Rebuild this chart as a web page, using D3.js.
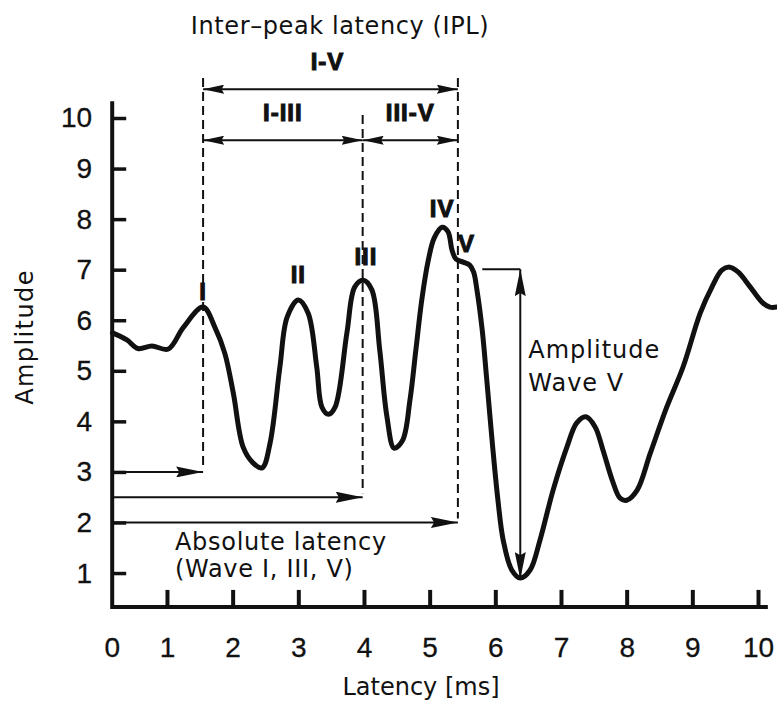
<!DOCTYPE html>
<html>
<head>
<meta charset="utf-8">
<script src="https://cdn.jsdelivr.net/npm/d3@7/dist/d3.min.js"></script>
<style>
  body { margin: 0; background: #fff; }
  svg { display: block; }
  .title { font-family: "DejaVu Sans", sans-serif; font-size: 24px; fill: #111; }
  .tick text { font-family: "Liberation Sans", Arial, sans-serif; font-size: 28px; fill: #111;
               stroke: #111; stroke-width: 0.3px; }
  .roman { font-family: "Liberation Sans", Arial, sans-serif; font-weight: bold; font-size: 24px;
           fill: #111; stroke: #111; stroke-width: 1.1px; letter-spacing: 1px; }
</style>
</head>
<body>
<svg id="chart" width="777" height="704"></svg>
<script>
// Auditory brainstem response trace: latency (ms) and amplitude samples
const latency = [0.17, 0.39, 0.56, 0.77, 1.02, 1.25, 1.55, 1.73, 1.88, 2.01, 2.16, 2.31, 2.45, 2.57,
  2.72, 2.83, 3.00, 3.15, 3.28, 3.36, 3.46, 3.56, 3.74, 3.86, 3.99, 4.12, 4.24, 4.35, 4.46,
  4.59, 4.70, 4.79, 4.88, 4.98, 5.07, 5.19, 5.28, 5.34, 5.40, 5.51, 5.61, 5.67, 5.72, 5.80,
  5.87, 5.96, 6.04, 6.12, 6.25, 6.38, 6.53, 6.68, 6.88, 7.09, 7.24, 7.38, 7.52, 7.64, 7.78,
  7.90, 8.00, 8.16, 8.36, 8.61, 8.86, 9.12, 9.30, 9.45, 9.57, 9.70, 9.88, 10.06, 10.18, 10.29];
const amplitude = [5.75, 5.61, 5.44, 5.49, 5.43, 5.86, 6.26, 5.86, 5.35, 4.56, 3.49, 3.18, 3.08, 3.57,
  5.08, 6.06, 6.40, 6.14, 5.08, 4.28, 4.14, 4.28, 5.75, 6.66, 6.79, 6.60, 5.41, 4.09, 3.47,
  3.63, 4.42, 5.41, 6.40, 7.19, 7.63, 7.84, 7.75, 7.39, 7.21, 7.15, 7.09, 6.95, 6.60, 5.81,
  4.82, 3.49, 2.44, 1.65, 1.06, 0.90, 1.06, 1.65, 2.64, 3.49, 3.97, 4.09, 3.89, 3.43, 2.84,
  2.48, 2.44, 2.64, 3.37, 4.28, 5.08, 6.14, 6.66, 6.99, 7.05, 6.95, 6.66, 6.36, 6.26, 6.26];

// Axis tick labels
const xTickLabels = [0, 1, 2, 3, 4, 5, 6, 7, 8, 9, 10];
const yTickLabels = [1, 2, 3, 4, 5, 6, 7, 8, 9, 10];

// Named waves and the latency / amplitude of each peak
const waveNames = ["I", "II", "III", "IV", "V"];
const waveLatency = [1.55, 3.00, 4.03, 5.19, 5.56];
const waveAmplitude = [6.26, 6.40, 6.79, 7.84, 7.13];

// Absolute latencies of waves I, III and V
const absWaves = ["I", "III", "V"];
const absLatency = [1.55, 3.98, 5.43];

// Inter-peak latency intervals
const iplNames = ["I-V", "I-III", "III-V"];
const iplFrom = [1.55, 1.55, 3.98];
const iplTo = [5.43, 3.98, 5.43];

// Wave V amplitude: from the V peak down to the following trough
const ampVTop = 7.01;
const ampVBottom = 0.88;
const ampVLatency = 6.38;

// ---------------------------------------------------------------------------
const svg = d3.select("#chart");
const x = d3.scaleLinear().domain([0, 10]).range([101.3, 758]);
const y = d3.scaleLinear().domain([0, 10]).range([623.6, 118]);

const originX = 0.166, originY = 0.33;   // where the two axes meet
const xEnd = 10.15, yEnd = 10.33;

const defs = svg.append("defs");
function marker(id, len, half) {
  defs.append("marker")
    .attr("id", id)
    .attr("viewBox", `0 ${-half} ${len} ${half * 2}`)
    .attr("refX", len).attr("refY", 0)
    .attr("markerUnits", "userSpaceOnUse")
    .attr("markerWidth", len).attr("markerHeight", half * 2)
    .attr("orient", "auto-start-reverse")
    .append("path")
    .attr("d", `M0,${-half} L${len},0 L0,${half} L${len * 0.12},0 Z`)
    .attr("fill", "#111");
}
marker("headLong", 27, 5.5);
marker("headShort", 21, 4.5);

// Axes
const xAxis = d3.axisBottom(x).tickValues(xTickLabels.slice(1))
  .tickSizeInner(-17).tickSizeOuter(0).tickPadding(30);
const gx = svg.append("g").attr("transform", `translate(0,${y(originY)})`).call(xAxis);
gx.select(".domain").remove();
gx.selectAll(".tick line").attr("stroke", "#111").attr("stroke-width", 4);

const yAxis = d3.axisLeft(y).tickValues(yTickLabels)
  .tickSizeInner(-14).tickSizeOuter(0).tickPadding(20);
const gy = svg.append("g").attr("transform", `translate(${x(originX)},0)`).call(yAxis);
gy.select(".domain").remove();
gy.selectAll(".tick line").attr("stroke", "#111").attr("stroke-width", 3.5);

// Zero label sits at the corner of the axes
gx.append("g").attr("class", "tick")
  .append("text")
  .attr("x", x(originX)).attr("y", 30).attr("dy", "0.71em")
  .attr("text-anchor", "middle").attr("fill", "#111")
  .text(xTickLabels[0]);

svg.append("path")
  .attr("d", `M${x(originX)},${y(yEnd)} L${x(originX)},${y(originY)} L${x(xEnd)},${y(originY)}`)
  .attr("fill", "none").attr("stroke", "#111").attr("stroke-width", 4)
  .attr("stroke-linejoin", "miter");

// Dashed latency markers
const dashTop = { I: 10.79, III: 10.06, V: 10.79 };
const absLevel = [3.0, 2.5, 2.0];
absWaves.forEach((w, i) => {
  svg.append("line")
    .attr("x1", x(absLatency[i])).attr("x2", x(absLatency[i]))
    .attr("y1", y(dashTop[w])).attr("y2", y(absLevel[i]) - 4)
    .attr("stroke", "#111").attr("stroke-width", 2)
    .attr("stroke-dasharray", "9,5");
  // Absolute latency arrows from the time origin
  svg.append("line")
    .attr("x1", x(originX)).attr("x2", x(absLatency[i]))
    .attr("y1", y(absLevel[i])).attr("y2", y(absLevel[i]))
    .attr("stroke", "#111").attr("stroke-width", 2)
    .attr("marker-end", "url(#headLong)");
});

// Inter-peak latency arrows
const iplLevel = [10.57, 9.56, 9.56];
iplNames.forEach((n, i) => {
  svg.append("line")
    .attr("x1", x(iplFrom[i])).attr("x2", x(iplTo[i]))
    .attr("y1", y(iplLevel[i])).attr("y2", y(iplLevel[i]))
    .attr("stroke", "#111").attr("stroke-width", 2)
    .attr("marker-start", "url(#headShort)")
    .attr("marker-end", "url(#headShort)");
  svg.append("text").attr("class", "roman")
    .attr("x", (x(iplFrom[i]) + x(iplTo[i])) / 2 + (i === 0 ? -3 : 0))
    .attr("y", y(iplLevel[i]) - 19)
    .attr("text-anchor", "middle")
    .text(n);
});

// Waveform
const pts = latency.map((t, i) => [t, amplitude[i]]);
svg.append("path")
  .datum(pts)
  .attr("d", d3.line().x(d => x(d[0])).y(d => y(d[1])).curve(d3.curveCatmullRom.alpha(0.5)))
  .attr("fill", "none").attr("stroke", "#111").attr("stroke-width", 5)
  .attr("stroke-linejoin", "round").attr("stroke-linecap", "round");

// Peak labels
const labelLift = [7, 17, 15, 10, 11];
waveNames.forEach((n, i) => {
  svg.append("text").attr("class", "roman")
    .attr("x", x(waveLatency[i]))
    .attr("y", y(waveAmplitude[i]) - labelLift[i])
    .attr("text-anchor", "middle")
    .text(n);
});

// Wave V amplitude arrow
svg.append("line")
  .attr("x1", x(ampVLatency) - 38).attr("x2", x(ampVLatency))
  .attr("y1", y(ampVTop)).attr("y2", y(ampVTop))
  .attr("stroke", "#111").attr("stroke-width", 2);
svg.append("line")
  .attr("x1", x(ampVLatency)).attr("x2", x(ampVLatency))
  .attr("y1", y(ampVTop)).attr("y2", y(ampVBottom))
  .attr("stroke", "#111").attr("stroke-width", 2)
  .attr("marker-start", "url(#headLong)")
  .attr("marker-end", "url(#headLong)");

// Text annotations
function multi(xp, yp, lines, lh, ls) {
  const t = svg.append("text").attr("class", "title")
    .attr("x", xp).attr("y", yp).style("letter-spacing", ls + "px");
  lines.forEach((s, i) => t.append("tspan").attr("x", xp).attr("dy", i ? lh : 0).text(s));
}
multi(x(ampVLatency) + 8, 358, ["Amplitude", "Wave V"], 33, 1);
multi(175, 550, ["Absolute latency", "(Wave I, III, V)"], 27, 0.7);

svg.append("text").attr("class", "title")
  .attr("x", 340).attr("y", 34).attr("text-anchor", "middle")
  .style("letter-spacing", "0.6px")
  .text("Inter–peak latency (IPL)");

svg.append("text").attr("class", "title")
  .attr("x", 421).attr("y", 695).attr("text-anchor", "middle")
  .text("Latency [ms]");

svg.append("text").attr("class", "title")
  .attr("transform", "translate(33,337) rotate(-90)")
  .attr("text-anchor", "middle")
  .style("letter-spacing", "1.4px")
  .text("Amplitude");
</script>
</body>
</html>
